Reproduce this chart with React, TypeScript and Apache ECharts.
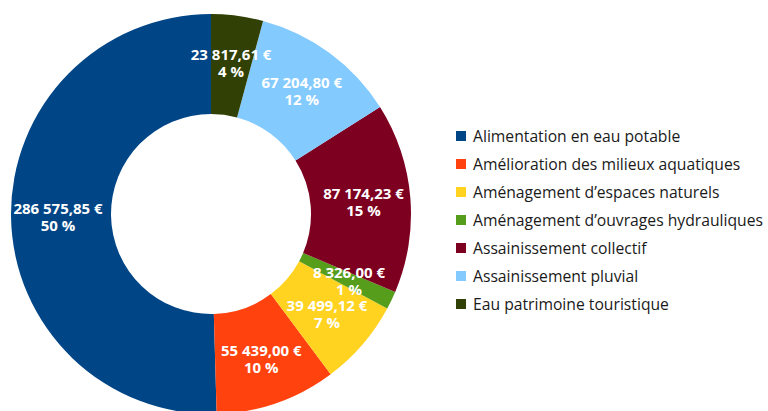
import React, { useEffect, useRef } from "react";
import * as echarts from "echarts";

const categories = [
  "Alimentation en eau potable",
  "Amélioration des milieux aquatiques",
  "Aménagement d’espaces naturels",
  "Aménagement d’ouvrages hydrauliques",
  "Assainissement collectif",
  "Assainissement pluvial",
  "Eau patrimoine touristique",
];
const values = [286575.85, 55439.0, 39499.12, 8326.0, 87174.23, 67204.8, 23817.61];
const colors = ["#004586", "#ff420e", "#ffd320", "#579d1c", "#7e0021", "#83caff", "#314004"];

const total = values.reduce((a, b) => a + b, 0);

function fmt(v: number): string {
  const [intPart, dec] = v.toFixed(2).split(".");
  const withSpaces = intPart.replace(/\B(?=(\d{3})+(?!\d))/g, " ");
  return `${withSpaces},${dec} €`;
}
const pct = (v: number) => `${Math.round((v / total) * 100)} %`;

export default function App() {
  const ref = useRef<HTMLDivElement>(null);
  useEffect(() => {
    if (!ref.current) return;
    const chart = echarts.init(ref.current, null, { renderer: "svg" });
    chart.setOption({
      animation: false,
      backgroundColor: "#ffffff",
      legend: {
        orient: "vertical",
        left: 451,
        top: 121,
        itemWidth: 10,
        itemHeight: 10,
        itemGap: 8,
        icon: "rect",
        data: categories,
        textStyle: {
          fontFamily: "Open Sans",
          fontSize: 15.7,
          color: "#1a1a1a",
          lineHeight: 20,
          padding: [0, 0, 0, 2],
        },
      },
      series: [
        {
          type: "pie",
          center: [211, 214],
          radius: [100, 200],
          startAngle: 90,
          clockwise: false,
          avoidLabelOverlap: false,
          labelLayout: { hideOverlap: false },
          label: {
            show: true,
            position: "inside",
            color: "#ffffff",
            fontFamily: "Open Sans",
            fontWeight: "bold",
            fontSize: 15,
            lineHeight: 17,
            formatter: (p: any) => `${fmt(p.value)}\n${pct(p.value)}`,
          },
          labelLine: { show: false },
          emphasis: { disabled: true },
          data: categories.map((name, i) => ({
            name,
            value: values[i],
            itemStyle: { color: colors[i] },
          })),
        },
      ],
    });
    return () => chart.dispose();
  }, []);
  return (
    <div
      ref={ref}
      style={{ position: "fixed", left: 0, top: 0, width: 768, height: 411 }}
    />
  );
}
